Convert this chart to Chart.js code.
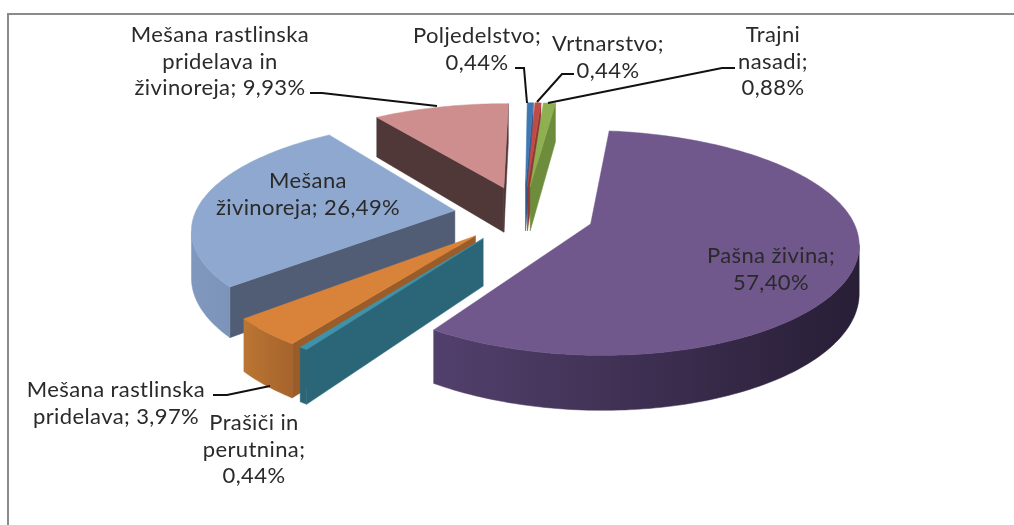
<!DOCTYPE html>
<html><head><meta charset="utf-8">
<script src="https://cdn.jsdelivr.net/npm/chart.js@4"></script>
<style>html,body{margin:0;padding:0;background:#fff}#w{width:1014px;height:525px;position:relative}canvas{display:block;filter:blur(0.45px)}</style>
</head><body><div id="w"><canvas id="c" width="1014" height="525"></canvas></div>
<script>
const categories = ['Poljedelstvo','Vrtnarstvo','Trajni nasadi','Pašna živina','Prašiči in perutnina','Mešana rastlinska pridelava','Mešana živinoreja','Mešana rastlinska pridelava in živinoreja'];
const shares = [0.44,0.44,0.88,57.40,0.44,3.97,26.49,9.93];
const topColors = ['#3f77b2','#bf4a47','#8fb050','#70578c','#3e93ab','#d9823a','#8fa8cf','#cf8e8e'];
const radialWallColors = ['#2f5a88','#8f3835','#6d8c3c','#3c2f50','#2a6678','#9a5c28','#515d75','#503838'];
const outerWallLeft = ['#2f5a88','#8f3835','#6d8c3c','#52406c','#2a6678','#bb7533','#8098bd','#503838'];
const outerWallRight = ['#2f5a88','#8f3835','#6d8c3c','#281e36','#2a6678','#a6642c','#7389ad','#503838'];
const drawOrder = [7,0,1,2,6,3,5,4];
const labelBlocks = [
 {lines:['Mešana rastlinska','pridelava in','živinoreja; 9,93%'],x:220,y:35},
 {lines:['Poljedelstvo;','0,44%'],x:477,y:36},
 {lines:['Vrtnarstvo;','0,44%'],x:608,y:44},
 {lines:['Trajni','nasadi;','0,88%'],x:773,y:35},
 {lines:['Pašna živina;','57,40%'],x:771,y:256},
 {lines:['Mešana','živinoreja; 26,49%'],x:308,y:181},
 {lines:['Mešana rastlinska','pridelava; 3,97%'],x:116,y:390},
 {lines:['Prašiči in','perutnina;','0,44%'],x:254,y:423}
];
const leaders = [
 [[310,93],[322,93],[437,106]],
 [[515,68],[524,68],[527,103]],
 [[574,74],[562,74],[537,102]],
 [[735,68],[722,68],[548,103]],
 [[213,395],[227,395],[270,386]]
];
const K=0.15, KY=0.165, RY=106, DEPTH=46;

const pie3d = {
 id:'pie3d',
 beforeDatasetDraw(chart,args){
  const ctx=chart.ctx, arcs=chart.getDatasetMeta(args.index).data;
  const proj=(a,px,py,down)=>{
    const R=a.outerRadius, v=py/R, s=1/(1-K*v), sy=1/(1-KY*v);
    return [a.x+px*s, a.y+RY*v*sy+(down?DEPTH*s:0)];
  };
  const poly=(pts,fill)=>{
    ctx.beginPath(); pts.forEach((p,i)=>i?ctx.lineTo(p[0],p[1]):ctx.moveTo(p[0],p[1])); ctx.closePath();
    ctx.fillStyle=fill; ctx.fill(); ctx.strokeStyle=fill; ctx.lineWidth=0.5; ctx.stroke();
  };
  const cross=(a,b)=>a[0]*b[1]-a[1]*b[0];
  drawOrder.forEach(i=>{
    const a=arcs[i], off=a.options.offset, mid=(a.startAngle+a.endAngle)/2, R=a.outerRadius;
    const ox=Math.cos(mid)*off, oy=Math.sin(mid)*off;
    const g=t=>[ox+R*Math.cos(t), oy+R*Math.sin(t)];
    const N=Math.max(2,Math.ceil((a.endAngle-a.startAngle)/0.02));
    const ground=[]; for(let k=0;k<=N;k++) ground.push(g(a.startAngle+(a.endAngle-a.startAngle)*k/N));
    const A=proj(a,ox,oy,false), Ad=proj(a,ox,oy,true);
    const top=ground.map(p=>proj(a,p[0],p[1],false)), bot=ground.map(p=>proj(a,p[0],p[1],true));
    const gm=[ox+0.5*R*Math.cos(mid),oy+0.5*R*Math.sin(mid)], M=proj(a,gm[0],gm[1],false);
    const wall=(P,Pd)=>{
      const e=[P[0]-A[0],P[1]-A[1]];
      if(cross(e,[0,1])*cross(e,[M[0]-A[0],M[1]-A[1]])<0) poly([A,P,Pd,Ad],radialWallColors[i]);
    };
    wall(top[0],bot[0]); wall(top[N],bot[N]);
    const xs=top.map(p=>p[0]), x0=Math.min(...xs), x1=Math.max(...xs);
    const grad=ctx.createLinearGradient(x0,0,Math.max(x1,x0+1),0);
    grad.addColorStop(0,outerWallLeft[i]); grad.addColorStop(1,outerWallRight[i]);
    let first=-1,last=-1;
    for(let k=0;k<N;k++){
      const e=[top[k+1][0]-top[k][0],top[k+1][1]-top[k][1]];
      if(cross(e,[0,1])*cross(e,[A[0]-top[k][0],A[1]-top[k][1]])<0){ if(first<0) first=k; last=k+1; }
    }
    if(first>=0) poly([...top.slice(first,last+1),...bot.slice(first,last+1).reverse()],grad);
    poly([A,...top],a.options.backgroundColor);
  });
  return false;
 },
 afterDraw(chart){
  const ctx=chart.ctx;
  ctx.save();
  ctx.strokeStyle='#8a8a8a'; ctx.lineWidth=2;
  ctx.beginPath(); ctx.moveTo(8,525); ctx.lineTo(8,14); ctx.lineTo(1014,14); ctx.stroke();
  ctx.strokeStyle='#111'; ctx.lineWidth=2;
  leaders.forEach(l=>{ctx.beginPath();l.forEach((p,i)=>i?ctx.lineTo(p[0],p[1]):ctx.moveTo(p[0],p[1]));ctx.stroke();});
  ctx.fillStyle='#2a2a2a'; ctx.font='22px Lato'; ctx.letterSpacing='0.4px'; ctx.textAlign='center'; ctx.textBaseline='middle';
  labelBlocks.forEach(b=>b.lines.forEach((t,i)=>ctx.fillText(t,b.x,b.y+i*26.6)));
  ctx.restore();
 }
};
new Chart(document.getElementById('c'),{
 type:'pie',
 data:{labels:categories,datasets:[{data:shares,backgroundColor:topColors,borderWidth:0,offset:70}]},
 options:{
  responsive:false,animation:false,rotation:0.5,radius:260,
  layout:{padding:{left:34,bottom:97}},
  plugins:{legend:{display:false},tooltip:{enabled:false}}
 },
 plugins:[pie3d]
});
</script></body></html>
